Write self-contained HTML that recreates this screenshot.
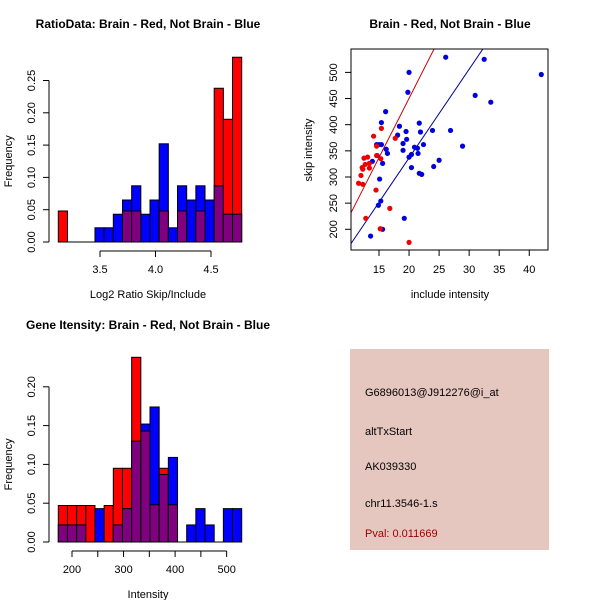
<!DOCTYPE html>
<html><head><meta charset="utf-8"><style>
body{margin:0;background:#fff}
svg{display:block;font-family:"Liberation Sans",sans-serif}
</style></head><body>
<svg id="s" width="600" height="600" viewBox="0 0 600 600">
<rect x="350" y="349" width="199" height="201" fill="#e6c7c0"/>
<text x="365" y="396" font-size="11">G6896013@J912276@i_at</text>
<text x="365" y="435" font-size="11">altTxStart</text>
<text x="365" y="470" font-size="11">AK039330</text>
<text x="365" y="507" font-size="11">chr11.3546-1.s</text>
<text x="365" y="537" font-size="11" fill="#a00000">Pval: 0.011669</text>
</svg>
<script>
// Panel 1 data
const ratioRed=[0.048,0,0,0,0,0,0,0.048,0.048,0,0,0.048,0,0.048,0,0.048,0,0.238,0.190,0.286];
const ratioBlue=[0,0,0,0,0.022,0.022,0.043,0.065,0.087,0.043,0.065,0.152,0.022,0.087,0.065,0.087,0.065,0.087,0.043,0.043];
const ratioXTicks=[3.5,4.0,4.5];
const ratioYTicks=[0,0.05,0.10,0.15,0.20,0.25];
// Panel 3 data
const intRed=[0.047,0.047,0.047,0.047,0,0.047,0.095,0.095,0.238,0.143,0.048,0.095,0.048,0,0,0,0,0,0,0];
const intBlue=[0.022,0.022,0.022,0,0.043,0,0.022,0.043,0.130,0.152,0.174,0.087,0.109,0,0.022,0.043,0.022,0,0.043,0.043];
const intXTicks=[200,250,300,350,400,450,500];
const intXLabels=["200","","300","","400","","500"];
const intYTicks=[0,0.05,0.10,0.15,0.20];
// Scatter data
const blueX=[26.1,32.5,42.0,20.0,19.8,31.0,33.6,16.1,15.4,21.7,18.4,19.5,21.9,23.9,26.9,18.1,19.6,15.0,15.4,14.6,16.2,16.4,19.0,19.0,20.9,21.4,22.4,28.9,21.5,20.4,20.0,14.7,15.6,13.9,25.0,20.4,24.1,21.7,22.1,15.1,15.3,14.9,19.2,15.6,13.6];
const blueY=[529,525,496,500,462,456,443,425,404,403,397,387,386,389,389,380,372,362,362,362,353,345,351,364,357,355,362,359,345,343,338,341,326,330,332,318,320,307,305,296,254,246,221,200,187];
const redX=[20.0,15.2,16.8,12.8,14.5,11.6,12.3,12.0,13.4,12.2,12.3,12.7,13.4,12.5,13.1,14.6,14.6,14.1,15.4,17.7,15.3];
const redY=[175,201,240,221,275,288,286,303,317,318,315,324,326,336,338,341,359,378,393,374,335];
const redFit=[-2.8,22.66];
const blueFit=[-2.7,16.96];
const scXTicks=[15,20,25,30,35,40];
const scYTicks=[200,250,300,350,400,450,500];

const svg=document.getElementById('s');
const NS='http://www.w3.org/2000/svg';
function mk(tag,a,name){const e=document.createElementNS(NS,tag);for(const k in a)e.setAttribute(k,a[k]);


svg.appendChild(e);return e;}
function txt(x,y,s,name,extra){const e=mk('text',Object.assign({x:x,y:y,'font-size':11,'text-anchor':'middle'},extra||{}),name);e.textContent=s;return e;}
const RED='#ff0000',BLUE='#0000ff',PURP='#800080';

function hist(red,blue,x0,x1,y0,yPer,bx,xTicks,xLabels,yTicks,xTickY,title,titleY,xlab,xlabY,pref){
  const n=red.length,w=(x1-x0)/n;
  const Y=v=>y0-v*yPer;
  for(let i=0;i<n;i++){
    const r=red[i],b=blue[i],mx=Math.max(r,b),mn=Math.min(r,b);
    const x=x0+i*w;
    if(mx>0){mk('rect',{x:x,y:Y(mx),width:w,height:mx*yPer,fill:r>=b?RED:BLUE,stroke:'#000','stroke-width':1},pref+'-bar-'+i);}
    if(mn>0){mk('rect',{x:x,y:Y(mn),width:w,height:mn*yPer,fill:PURP,stroke:'#000','stroke-width':1},pref+'-overlap-bar-'+i);}
  }
  mk('line',{x1:x0,x2:x1,y1:y0,y2:y0,stroke:'#000'},pref+'-baseline');
  const X=v=>bx[0]+(v-xTicks[0])*bx[1];
  mk('line',{x1:X(xTicks[0]),x2:X(xTicks[xTicks.length-1]),y1:xTickY,y2:xTickY,stroke:'#000'},pref+'-x-axis');
  xTicks.forEach((t,i)=>{mk('line',{x1:X(t),x2:X(t),y1:xTickY,y2:xTickY+6,stroke:'#000'},pref+'-x-tick');
    txt(X(t),xTickY+22,xLabels[i],pref+'-x-tick-label');});
  mk('line',{x1:49,x2:49,y1:Y(yTicks[0]),y2:Y(yTicks[yTicks.length-1]),stroke:'#000'},pref+'-y-axis');
  yTicks.forEach(t=>{mk('line',{x1:43,x2:49,y1:Y(t),y2:Y(t),stroke:'#000'},pref+'-y-tick');
    txt(35,Y(t),t.toFixed(2),pref+'-y-tick-label',{transform:`rotate(-90 35 ${Y(t)})`});});
  txt(148,titleY,title,pref+'-title',{'font-weight':'bold','font-size':12});
  txt(148,xlabY,xlab,pref+'-x-axis-title');
  const yc=(y0+Y(yTicks[yTicks.length-1]))/2;
  txt(12,yc,'Frequency',pref+'-y-axis-title',{transform:`rotate(-90 12 ${yc})`});
}
hist(ratioRed,ratioBlue,58.3,241.7,242,646,[100,111],ratioXTicks,["3.5","4.0","4.5"],ratioYTicks,251,'RatioData: Brain - Red, Not Brain - Blue',28,'Log2 Ratio Skip/Include',298,'ratio');
hist(intRed,intBlue,58.3,241.7,542,776,[72,0.5155],intXTicks,intXLabels,intYTicks,551,'Gene Itensity: Brain - Red, Not Brain - Blue',329,'Intensity',598,'intensity');
</script>
<script>
(function(){
const X=v=>351+(v-10.34)*6.01, Y=v=>250-(v-160.4)*0.523;
const clip=mk('clipPath',{id:'cp'},'scatter-clip');
const cr=document.createElementNS(NS,'rect');cr.setAttribute('x',351);cr.setAttribute('y',49);cr.setAttribute('width',197);cr.setAttribute('height',201);clip.appendChild(cr);
[[redFit,'#cc0000','red-fit-line'],[blueFit,'#000099','blue-fit-line']].forEach(([f,c,n])=>{
  mk('line',{x1:X(10.34),y1:Y(f[0]+f[1]*10.34),x2:X(43),y2:Y(f[0]+f[1]*43),stroke:c,'stroke-width':1,'clip-path':'url(#cp)'},n);});
blueX.forEach((x,i)=>mk('circle',{cx:X(x),cy:Y(blueY[i]),r:2.6,fill:'#0000dd'},'blue-point'));
redX.forEach((x,i)=>mk('circle',{cx:X(x),cy:Y(redY[i]),r:2.6,fill:'#ee0000'},'red-point'));
mk('rect',{x:351,y:49,width:197,height:201,fill:'none',stroke:'#000'},'scatter-frame');
scXTicks.forEach(t=>{mk('line',{x1:X(t),x2:X(t),y1:250,y2:256,stroke:'#000'},'scatter-x-tick');txt(X(t),273,String(t),'scatter-x-tick-label');});
scYTicks.forEach(t=>{mk('line',{x1:345,x2:351,y1:Y(t),y2:Y(t),stroke:'#000'},'scatter-y-tick');txt(337,Y(t),String(t),'scatter-y-tick-label',{transform:`rotate(-90 337 ${Y(t)})`});});
txt(450,28,'Brain - Red, Not Brain - Blue','scatter-title',{'font-weight':'bold','font-size':12});
txt(450,298,'include intensity','scatter-x-axis-title');
txt(312,150,'skip intensity','scatter-y-axis-title',{transform:'rotate(-90 312 150)'});
})();
</script>
</body></html>
